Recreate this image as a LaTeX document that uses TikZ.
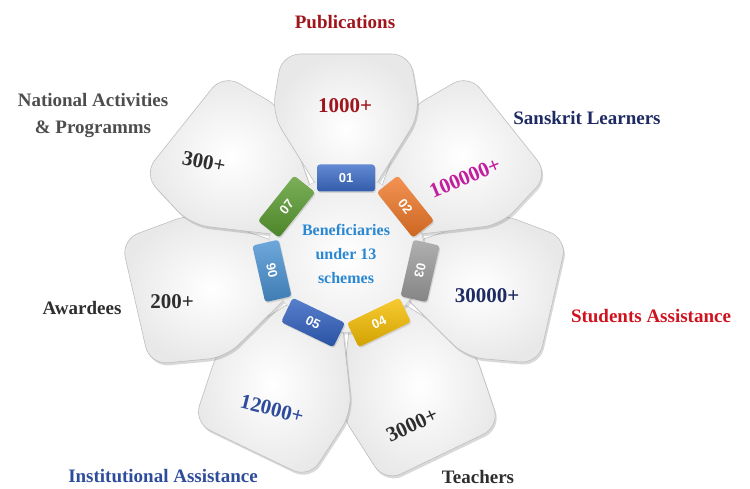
\documentclass[tikz,border=0pt]{standalone}
\usepackage{fontspec}
\setmainfont{Liberation Serif}
\setsansfont{Liberation Sans}
\usetikzlibrary{shadows,shapes.geometric}

\definecolor{pubred}{HTML}{A0141C}
\definecolor{navy}{HTML}{1E2A62}
\definecolor{magenta}{HTML}{C21E9E}
\definecolor{stured}{HTML}{D0121E}
\definecolor{instblue}{HTML}{2E4C9C}
\definecolor{darktext}{HTML}{2E2E2E}
\definecolor{hubblue}{HTML}{2A88D2}
\definecolor{tabblue}{HTML}{3B6CC8}
\definecolor{taborange}{HTML}{F07828}
\definecolor{tabgray}{HTML}{9C9C9C}
\definecolor{tabyellow}{HTML}{F6BE00}
\definecolor{tabdeep}{HTML}{3060C0}
\definecolor{tabsky}{HTML}{4A92D2}
\definecolor{tabgreen}{HTML}{5A9C30}

\tikzset{
  petal/.style={inner color=white, outer color=gray!18, draw=gray!50, line width=0.6pt,
    rounded corners=18pt, drop shadow={opacity=0.3, shadow xshift=1.5pt, shadow yshift=-2.5pt}},
  hub/.style={regular polygon, regular polygon sides=7, shape border rotate=25.71,
    minimum size=160pt, inner color=white, outer color=gray!14, draw=gray!40,
    rounded corners=6pt, drop shadow={opacity=0.25}},
  hubtext/.style={align=center, text=hubblue, inner sep=0pt,
    font=\fontsize{16}{24}\selectfont\bfseries},
  tabbox/.style={rounded corners=3pt, minimum width=58pt, minimum height=27pt, inner sep=0pt,
    text=white, font=\fontsize{13}{13}\selectfont\sffamily\bfseries,
    drop shadow={opacity=0.25, shadow xshift=1pt, shadow yshift=-1.5pt}},
  count/.style={font=\fontsize{21}{21}\selectfont\bfseries},
  title/.style={font=\fontsize{19}{19}\selectfont\bfseries}
}

\begin{document}
\begin{tikzpicture}[x=1pt,y=1pt]
    %initialisation
    \useasboundingbox (0,0) rectangle (750,488);
    \coordinate (O) at (346,234);
    %petals
    \foreach \a/\r in {-64.29/222,-115.71/218,-12.86/212,-167.14/216,38.57/208,141.43/208,90/200}
      \path[petal, shift={(O)}, rotate=\a]
        (50,-18) -- (140,-74) -- (\r,-64) -- (\r,64) -- (140,74) -- (50,18) -- cycle;
    %hub
    \node[hub] (hub) at (O) {};
    \node[hubtext] (ctr) at (O) {Beneficiaries\\under 13\\schemes};
    %tabs
    \foreach \a/\lab/\col/\rot in {90/01/tabblue/0, 38.57/02/taborange/-51.43,
        -12.86/03/tabgray/-102.86, -64.29/04/tabyellow/25.71, -115.71/05/tabdeep/-25.71,
        -167.14/06/tabsky/102.86, 141.43/07/tabgreen/51.43}
      \node[tabbox, top color=\col!80!white, bottom color=\col!85!black, rotate=\rot]
        (t\lab) at ([shift={(\a:76)}]O) {\lab};
    %counts
    \node[count, text=pubred] (n1) at (345,382) {1000+};
    \node[count, text=magenta, rotate=23] (n2) at (465,310) {100000+};
    \node[count, text=navy] (n3) at (487,192) {30000+};
    \node[count, text=darktext, rotate=25] (n4) at (412,63) {3000+};
    \node[count, text=instblue, rotate=-14] (n5) at (272,79) {12000+};
    \node[count, text=darktext] (n6) at (172,186) {200+};
    \node[count, text=darktext, rotate=-11] (n7) at (204,326) {300+};
    %label
    \node[title, text=pubred] (l1) at (345,466) {Publications};
    \node[title, text=navy] (l2) at (587,370) {Sanskrit Learners};
    \node[title, text=stured] (l3) at (651,172) {Students Assistance};
    \node[title, text=darktext] (l4) at (478,11) {Teachers};
    \node[title, text=instblue] (l5) at (163,12) {Institutional Assistance};
    \node[title, text=darktext] (l6) at (82,180) {Awardees};
    \node[title, text=darktext!85, align=center, font=\fontsize{19}{27}\selectfont\bfseries]
      (l7) at (93,372) {National Activities\\\& Programms};
\end{tikzpicture}
\end{document}
